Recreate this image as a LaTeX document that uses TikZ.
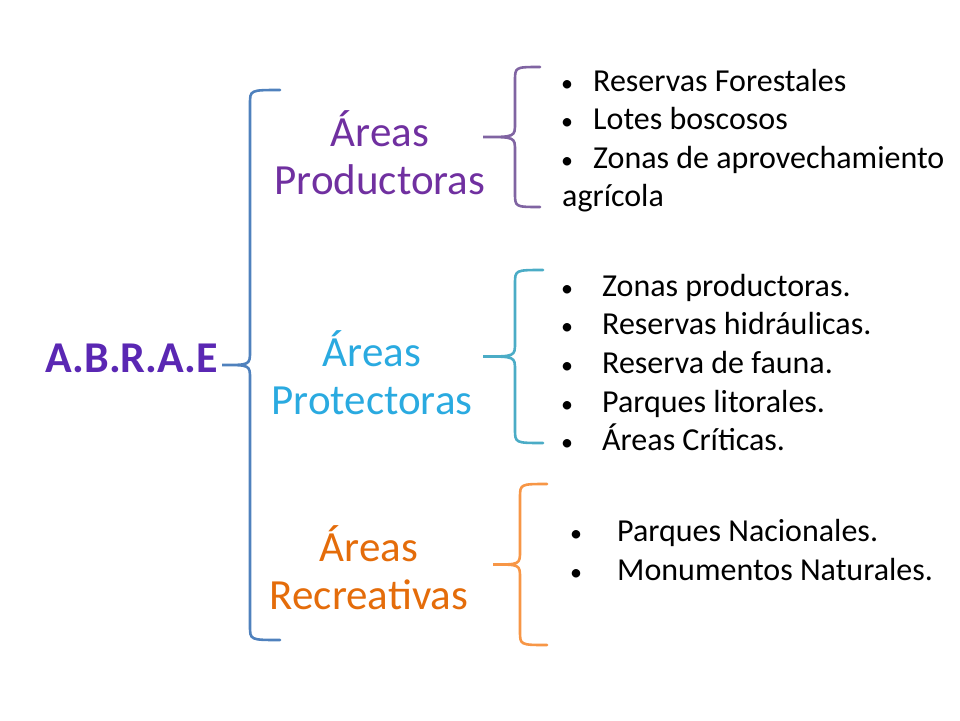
\documentclass[tikz,border=0pt]{standalone}
\usepackage{fontspec}
\setmainfont{Carlito}
\begin{document}
\begin{tikzpicture}[x=1pt,y=-1pt,
  br/.style={line width=2.6pt,line cap=round},
  head/.style={font=\fontsize{43}{48}\selectfont,align=center},
  it/.style={anchor=base west,font=\fontsize{32}{36}\selectfont,text=black,inner sep=0pt},
  bul/.style={anchor=base west,font=\fontsize{24}{28}\selectfont,inner sep=0pt}]
\useasboundingbox (0,0) rectangle (960,720);
\definecolor{tpur}{HTML}{7030A0}
\definecolor{tcy}{HTML}{2AAAE0}
\definecolor{tor}{HTML}{E46C0A}
\definecolor{bblue}{HTML}{4F81BD}
\definecolor{bpur}{HTML}{8064A2}
\definecolor{bcy}{HTML}{4BACC6}
\definecolor{bor}{HTML}{F79646}
\newcommand{\mybrace}[6]{% xr top bot xv xtip color
 \draw[br,#6] (#1,#2) .. controls (#4,#2) .. (#4,#2+14) -- (#4,{(#2+#3)/2-14}) .. controls (#4,{(#2+#3)/2}) .. (#5,{(#2+#3)/2}) .. controls (#4,{(#2+#3)/2}) .. (#4,{(#2+#3)/2+14}) -- (#4,#3-14) .. controls (#4,#3) .. (#1,#3);}
\node[font=\fontsize{44}{48}\selectfont\bfseries,text=tpur!80!blue] (t) at (132,358) {A.B.R.A.E};
\mybrace{280}{90}{640}{250}{222}{bblue}
\mybrace{540}{67}{207}{515}{483}{bpur}
\mybrace{543}{270}{443}{515}{483}{bcy}
\mybrace{547}{484}{645}{520}{493}{bor}
\node[head,text=tpur] (p) at (380,153) {Áreas\\Productoras};
\node[head,text=tcy] (q) at (372,373) {Áreas\\Protectoras};
\node[head,text=tor] (r) at (369,568) {Áreas\\Recreativas};
% list 1
\foreach \y/\t [count=\i] in {91/Reservas Forestales,129/Lotes boscosos,168/Zonas de aprovechamiento}{
 \node[bul] (a\i) at (561,\y) {•};
 \node[it] (b\i) at (593,\y) {\t};}
\node[it] (b4) at (562,206) {agrícola};
% list 2
\foreach \y/\t [count=\i] in {296/Zonas productoras.,334/Reservas hidráulicas.,373/Reserva de fauna.,412/Parques litorales.,450/Áreas Críticas.}{
 \node[bul] (c\i) at (561,\y) {•};
 \node[it] (d\i) at (602,\y) {\t};}
% list 3
\foreach \y/\t [count=\i] in {541/Parques Nacionales.,580/Monumentos Naturales.}{
 \node[bul] (e\i) at (570,\y) {•};
 \node[it] (f\i) at (617,\y) {\t};}
\end{tikzpicture}
\end{document}
